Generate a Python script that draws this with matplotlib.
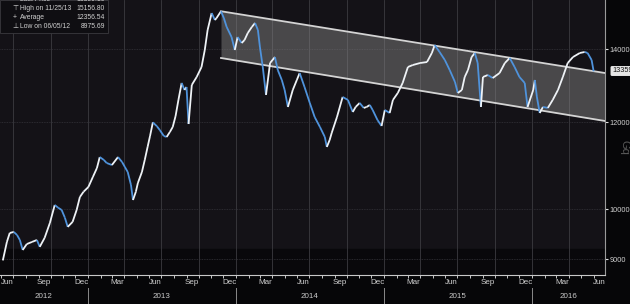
import numpy as np
import pandas as pd
import matplotlib
matplotlib.use('Agg')
import matplotlib.pyplot as plt
import matplotlib.dates as mdates
import matplotlib.transforms as mtransforms
from matplotlib.collections import LineCollection
from matplotlib.patches import Rectangle

plt.rcParams['font.family'] = ['Liberation Sans', 'DejaVu Sans']

# price series
dates = ['2012-06-05', '2012-06-15', '2012-06-22', '2012-07-02', '2012-07-10', '2012-07-17',
         '2012-07-24', '2012-08-03', '2012-08-16', '2012-08-28', '2012-09-04', '2012-09-16',
         '2012-09-29', '2012-10-11', '2012-10-19', '2012-10-28', '2012-11-05', '2012-11-12',
         '2012-11-24', '2012-12-04', '2012-12-12', '2012-12-21', '2013-01-02', '2013-01-13',
         '2013-01-23', '2013-01-30', '2013-02-09', '2013-02-16', '2013-03-01', '2013-03-16',
         '2013-03-26', '2013-04-02', '2013-04-09', '2013-04-17', '2013-04-22', '2013-04-29',
         '2013-05-04', '2013-05-14', '2013-05-21', '2013-05-28', '2013-06-03', '2013-06-10',
         '2013-06-20', '2013-06-27', '2013-07-07', '2013-07-14', '2013-07-22', '2013-07-29',
         '2013-08-05', '2013-08-12', '2013-08-20', '2013-08-27', '2013-09-01', '2013-09-06',
         '2013-09-14', '2013-09-26', '2013-10-08', '2013-10-16', '2013-10-23', '2013-11-02',
         '2013-11-10', '2013-11-14', '2013-11-25', '2013-12-02', '2013-12-09', '2013-12-21',
         '2013-12-29', '2014-01-05', '2014-01-15', '2014-01-22', '2014-01-30', '2014-02-09',
         '2014-02-17', '2014-02-24', '2014-03-01', '2014-03-08', '2014-03-16', '2014-03-26',
         '2014-04-07', '2014-04-14', '2014-04-24', '2014-05-01', '2014-05-09', '2014-05-21',
         '2014-05-31', '2014-06-07', '2014-06-19', '2014-07-02', '2014-07-14', '2014-07-27',
         '2014-08-08', '2014-08-13', '2014-08-20', '2014-08-25', '2014-09-07', '2014-09-21',
         '2014-10-04', '2014-10-16', '2014-10-23', '2014-11-02', '2014-11-12', '2014-11-19',
         '2014-11-27', '2014-12-04', '2014-12-16', '2014-12-26', '2015-01-03', '2015-01-15',
         '2015-01-23', '2015-02-04', '2015-02-16', '2015-03-01', '2015-03-13', '2015-03-31',
         '2015-04-17', '2015-04-29', '2015-05-06', '2015-05-18', '2015-05-31', '2015-06-12',
         '2015-06-25', '2015-07-02', '2015-07-12', '2015-07-19', '2015-07-27', '2015-08-05',
         '2015-08-13', '2015-08-20', '2015-08-28', '2015-09-02', '2015-09-14', '2015-09-26',
         '2015-10-13', '2015-10-26', '2015-11-07', '2015-11-19', '2015-12-01', '2015-12-14',
         '2015-12-21', '2016-01-04', '2016-01-08', '2016-01-13', '2016-01-20', '2016-01-28',
         '2016-02-09', '2016-02-21', '2016-03-05', '2016-03-17', '2016-03-29', '2016-04-11',
         '2016-04-28', '2016-05-10', '2016-05-17', '2016-05-27', '2016-06-01']
prices = [8976, 9332, 9509, 9530, 9469, 9370,
          9175, 9290, 9332, 9370, 9236, 9411,
          9711, 10086, 10030, 9981, 9820, 9632,
          9733, 9981, 10256, 10370, 10475, 10697,
          10900, 11155, 11088, 11017, 10970, 11155,
          11040, 10924, 10810, 10520, 10192, 10370,
          10563, 10810, 11088, 11395, 11660, 12000,
          11900, 11808, 11660, 11637, 11760, 11884,
          12160, 12578, 13036, 12845, 12925, 11958,
          12982, 13200, 13481, 13971, 14571, 15100,
          14880, 14942, 15157, 14942, 14664, 14358,
          13971, 14358, 14178, 14267, 14479, 14664,
          14787, 14571, 14059, 13481, 12712, 13594,
          13766, 13395, 13117, 12845, 12394, 12845,
          13117, 13311, 12925, 12499, 12134, 11884,
          11637, 11395, 11563, 11735, 12134, 12658,
          12578, 12264, 12394, 12499, 12369, 12394,
          12445, 12316, 12057, 11908, 12316, 12238,
          12578, 12764, 13036, 13481, 13537, 13594,
          13622, 13884, 14118, 13913, 13680, 13395,
          13063, 12764, 12845, 13200, 13395, 13766,
          13884, 13594, 12394, 13200, 13255, 13172,
          13311, 13594, 13738, 13481, 13200, 13036,
          12394, 12845, 13117, 12658, 12238, 12394,
          12369, 12578, 12845, 13200, 13594, 13766,
          13884, 13913, 13884, 13680, 13359]

# trend channel
chan_dates = ['2013-11-25', '2016-06-29']
chan_upper = [15157, 13311]
chan_lower = [13738, 12034]

y_ticks = [9000, 10000, 12000, 14000]
last_price = '13359.'
legend_rows = [('Last Price', '13359.19'),
               ('High on 11/25/13', '15156.80'),
               ('Average', '12356.54'),
               ('Low on 06/05/12', '8975.69')]
legend_marks = ['', '\u22a4', '+', '\u22a5']

W, H = 630, 304
fig = plt.figure(figsize=(W / 100, H / 100), dpi=100, facecolor='#060608')
ax = fig.add_axes([0, 29 / H, 605 / W, 275 / H])
ax.set_facecolor('#141217')

x = mdates.date2num(pd.to_datetime(dates))
y = np.array(prices, dtype=float)

ax.set_yscale('log')
ax.set_ylim(8705, 15520)
ax.set_xlim(mdates.date2num(pd.Timestamp('2012-05-29')), mdates.date2num(pd.Timestamp('2016-06-29')))

# darker band at the bottom
ax.axhspan(8705, 9190, color='#09080b', zorder=0)

# grid
for q in pd.date_range('2012-07-01', '2016-04-01', freq='QS'):
    ax.axvline(mdates.date2num(q), color='#3c3b40', lw=0.6, zorder=1)
for t in y_ticks:
    ax.axhline(t, color='#34333a', lw=0.6, ls=(0, (1, 1)), zorder=1)

# channel
cx = mdates.date2num(pd.to_datetime(chan_dates))
ax.fill_between(cx, chan_lower, chan_upper, color='#8a8a8a', alpha=0.45, lw=0, zorder=2)
ax.plot(cx, chan_upper, color='#d4d4d4', lw=1.3, zorder=3)
ax.plot(cx, chan_lower, color='#d4d4d4', lw=1.3, zorder=3)

# price line, white when rising, blue when falling
pts = np.column_stack([x, y])
segs = np.stack([pts[:-1], pts[1:]], axis=1)
cols = ['#eef2f6' if b >= a else '#4f93dc' for a, b in zip(y[:-1], y[1:])]
ax.add_collection(LineCollection(segs, colors=cols, linewidths=1.3, zorder=4))

# axes styling
for s in ['top', 'left']:
    ax.spines[s].set_visible(False)
ax.spines['bottom'].set_color('#c8c8c8')
ax.spines['bottom'].set_linewidth(0.8)
ax.spines['right'].set_color('#9a9a9a')
ax.spines['right'].set_linewidth(0.8)

ax.yaxis.tick_right()
ax.yaxis.set_minor_locator(matplotlib.ticker.NullLocator())
ax.set_yticks(y_ticks)
ax.set_yticklabels([str(t) for t in y_ticks])
ax.tick_params(axis='y', colors='#e0e0e0', labelcolor='#d0d0d0', labelsize=5.3, length=2.5, width=0.8, pad=1)

month_lbl = pd.date_range('2012-06-01', '2016-06-01', freq='3MS') + pd.Timedelta(days=14)
ax.set_xticks(mdates.date2num(month_lbl))
ax.set_xticklabels([d.strftime('%b') for d in month_lbl])
ax.xaxis.set_minor_locator(mdates.MonthLocator())
ax.tick_params(axis='x', which='major', length=0, labelsize=5.8, labelcolor='#d0d0d0', pad=3)
ax.tick_params(axis='x', which='minor', length=2, color='#c8c8c8', width=0.7)

# year labels and separators below the axis
trans = mtransforms.blended_transform_factory(ax.transData, fig.transFigure)
year_mid = {'2012': '2012-09-14', '2013': '2013-07-02', '2014': '2014-07-02',
            '2015': '2015-07-02', '2016': '2016-03-31'}
for yr, d in year_mid.items():
    fig.text(mdates.date2num(pd.Timestamp(d)), 8 / H, yr, transform=trans,
             ha='center', va='center', fontsize=5.8, color='#c8c8c8')
for yr in ['2013', '2014', '2015', '2016']:
    xx = mdates.date2num(pd.Timestamp(yr + '-01-01'))
    ax.plot([xx, xx], [0, 16 / H], transform=trans, color='#8a8a8a', lw=0.7, clip_on=False)

# last price tag
fig.text(612 / W, 1 - 71 / H, last_price, fontsize=5.3, color='#111111', va='center', ha='left',
         bbox=dict(boxstyle='round,pad=0.2', fc='#e6e6e6', ec='none'))
fig.text(624 / W, 1 - 147 / H, 'Gq', rotation=270, fontsize=8, color='#5a5a5a', va='center', ha='center')

# legend box
fig.patches.append(Rectangle((0, 1 - 33 / H), 108 / W, 33 / H, transform=fig.transFigure,
                             fc='#0f0e12', ec='#3a3a3e', lw=0.6, zorder=5))
row_y = [-2, 7, 16, 24.5]
for (lbl, val), mk, ry in zip(legend_rows, legend_marks, row_y):
    fy = 1 - (ry + 1.5) / H
    fig.text(15 / W, fy, mk, fontsize=5, color='#d0d0d0', va='center', ha='center', zorder=6)
    fig.text(20 / W, fy, lbl, fontsize=4.9, color='#d0d0d0', va='center', ha='left', zorder=6)
    fig.text(105 / W, fy, val, fontsize=4.9, color='#d0d0d0', va='center', ha='right', zorder=6)

fig.savefig('out.png', dpi=100, facecolor=fig.get_facecolor())
